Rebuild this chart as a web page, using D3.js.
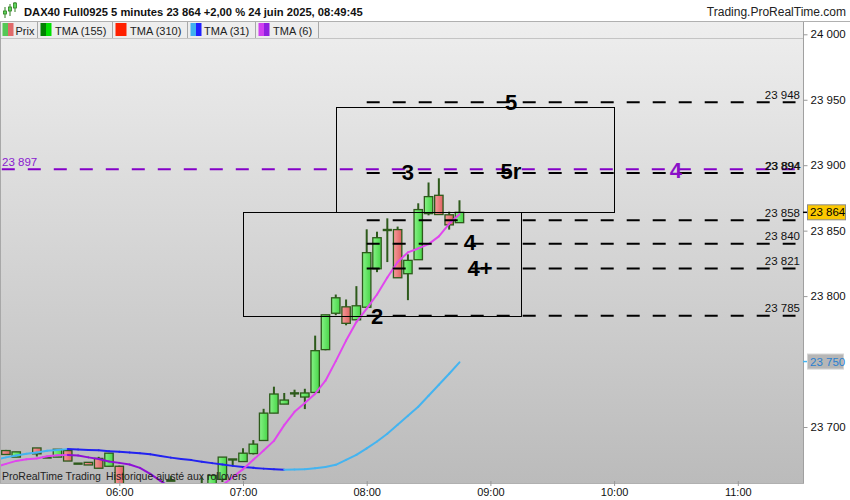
<!DOCTYPE html>
<html><head><meta charset="utf-8">
<script src="https://cdn.jsdelivr.net/npm/d3@7"></script>
<style>
body{margin:0;background:#fff;}
svg{display:block;font-family:Arial,"Liberation Sans",sans-serif;}
</style></head><body>
<svg id="c" width="850" height="500"></svg>
<script>
// ---------------- DATA ----------------
const candleTimes = ["05:05","05:10","05:20","05:25","05:30","05:35","05:40","05:45","05:50","05:55",
  "06:00","06:05","06:10","06:15","06:20","06:25","06:30","06:35","06:40","06:45","06:50","06:55",
  "07:00","07:05","07:10","07:15","07:20","07:25","07:30","07:35","07:40","07:45","07:50","07:55",
  "08:00","08:05","08:10","08:15","08:20","08:25","08:30","08:35","08:40","08:45"];
const opens  = [23682,23677,23684,23676.7,23677,23682,23672,23673,23676,23670,
  23670,23652,23642,23645,23640,23659,23650,23645,23650,23648,23660,23675.2,
  23673.6,23679.7,23689.7,23710.6,23717.5,23725.7,23722.9,23726.4,23759.1,23786.9,23791.8,23781.9,
  23791.5,23820.9,23850.5,23850.8,23817.1,23827.8,23863,23877,23862.1,23856.1];
const highs  = [23682.5,23681,23684,23676.7,23683,23683,23672,23673,23677.2,23680,
  23670.5,23654,23648,23650,23652,23662.5,23655,23654,23661.5,23663,23677,23675.2,
  23683.8,23690,23713.9,23730.8,23726,23728.5,23729.2,23769.8,23785.7,23801.2,23797.4,23807.6,
  23851,23849.2,23859.4,23853.1,23831.9,23870.9,23886.8,23890,23864.5,23873.2];
const lows   = [23679,23677,23677.5,23676.7,23677,23674,23672,23671,23668.5,23670,
  23648,23638,23635,23638,23636,23659,23640,23638,23645,23645,23658,23670.3,
  23673.6,23679,23689.7,23710.6,23717.5,23722.9,23713.7,23726.4,23758.6,23785.4,23777.7,23781.9,
  23791.5,23818.3,23826,23814,23796.9,23827.8,23861.7,23862.3,23850.8,23856.1];
const closes = [23679,23681,23679.5,23676.7,23683,23674,23672,23671,23668.5,23680,
  23652,23642,23645,23640,23650,23659,23645,23650,23648,23663,23677,23675.2,
  23680,23686.9,23710.6,23725.2,23720.6,23725.7,23726,23758.3,23785.7,23798.7,23779.2,23792.6,
  23833.2,23844.6,23850.5,23814,23827.3,23866.1,23876,23862.3,23854.4,23864];

const tmaTimes = ["05:00","05:05","05:10","05:15","05:20","05:25","05:30","05:35","05:40","05:45","05:50","05:55",
  "06:00","06:05","06:10","06:15","06:20","06:25","06:30","06:35","06:40","06:45","06:50","06:55",
  "07:00","07:05","07:10","07:15","07:20","07:25","07:30","07:35","07:40","07:45","07:50","07:55",
  "08:00","08:05","08:10","08:15","08:20","08:25","08:30","08:35","08:40","08:45"];
const tma6 = [23669.5,23671.8,23674.1,23675.3,23676.0,23677.6,23678.5,23678.7,23678.3,23676.8,23675.6,23673.7,
  23672.6,23671.4,23668.8,23664.2,23658.8,23653.4,23650.0,23648.0,23648.5,23651.0,23655.5,23661.6,
  23667.8,23674.9,23682.0,23689.4,23701.4,23711.6,23718.4,23725.4,23735.4,23750.3,23766.0,23780.2,
  23790.5,23801.2,23814.2,23826.1,23833.4,23836.4,23839.7,23845.6,23855.2,23862.5];
const tma31 = [23674.9,23676.8,23678.3,23679.5,23680.6,23681.8,23682.5,23683.1,23682.9,23682.5,23682.2,23681.5,
  23681.0,23680.6,23680.0,23679.1,23677.9,23676.6,23675.6,23674.7,23673.5,23672.4,23671.4,23670.3,
  23669.5,23668.8,23668.2,23667.8,23667.4,23667.5,23667.8,23668.5,23669.5,23671.1,23674.9,23678.7,
  23683.7,23688.9,23694.8,23701.7,23708.6,23715.5,23723.9,23732.3,23740.7,23749.4];

const levelPrices = [23948, 23894, 23858, 23840, 23821, 23785];
const levelStart = "08:00", levelEnd = "11:28";
const pivotPrice = 23897, pivotStart = "05:03";

const boxStarts = ["07:00","07:45"], boxEnds = ["09:15","10:00"];
const boxTops = [23864, 23944.2], boxBottoms = [23784.8, 23864];

const waveLabels = ["5","3","5r","4","4+","2","4"];
const waveTimes  = ["09:10","08:20","09:10","08:50","08:55","08:05","10:30"];
const wavePrices = [23948,23894.5,23895.5,23841,23821.5,23785,23896.5];
const waveIsPivot = [false,false,false,false,false,false,true];

const yTicks = [23700,23800,23850,23900,23950,24000];
const xTickLabels = ["06:00","07:00","08:00","09:00","10:00","11:00"];
const lastPrice = 23864, tma31Last = 23750;
const legendNames = ["Prix","TMA (155)","TMA (310)","TMA (31)","TMA (6)"];
const headerText = "DAX40 Full0925 5 minutes 23 864 +2,00 % 24 juin 2025, 08:49:45";

// ---------------- SETUP ----------------
const W=850,H=500, plotL=1, plotR=803, plotT=38, plotB=483;
const FS = 11;
const parse = d3.timeParse("%H:%M");
const fmt = d3.formatLocale({decimal:",",thousands:" ",grouping:[3],currency:["",""]}).format(",d");
const x = d3.scaleTime().domain([parse("05:00"), parse("11:00")]).range([-4.4, 737.8]);
const y = d3.scaleLinear().domain([23700, 24000]).range([427, 34.3]);

const svg = d3.select("#c");
const defs = svg.append("defs");
const bg = defs.append("linearGradient").attr("id","bg").attr("x1",0).attr("y1",0).attr("x2",0).attr("y2",1);
bg.append("stop").attr("offset",0).attr("stop-color","#eeeeee");
bg.append("stop").attr("offset",1).attr("stop-color","#bbbbbb");
const gG = defs.append("linearGradient").attr("id","gG");
gG.append("stop").attr("offset",0).attr("stop-color","#86f286");
gG.append("stop").attr("offset",1).attr("stop-color","#48d648");
const gR = defs.append("linearGradient").attr("id","gR");
gR.append("stop").attr("offset",0).attr("stop-color","#f49a9a");
gR.append("stop").attr("offset",1).attr("stop-color","#e06262");
defs.append("clipPath").attr("id","clip").append("rect")
  .attr("x",plotL).attr("y",plotT).attr("width",plotR-plotL).attr("height",plotB-plotT);

svg.append("rect").attr("width",W).attr("height",H).attr("fill","#fff");
svg.append("rect").attr("x",0).attr("y",22).attr("width",plotR).attr("height",plotB-22).attr("fill","url(#bg)");

// header
const icon = svg.append("g");
[[5,7,16,11,14],[10,4,14,7,11],[15,2,10,3,8]].forEach(([cx,wt,wb,bt,bb])=>{
  icon.append("line").attr("x1",cx).attr("x2",cx).attr("y1",wt).attr("y2",wb+2).attr("stroke","#2e7d1e").attr("stroke-width",1);
  icon.append("rect").attr("x",cx-1.5).attr("y",bt).attr("width",3).attr("height",bb-bt).attr("fill","#5cd65c").attr("stroke","#2e7d1e").attr("stroke-width",0.8);
});
svg.append("text").attr("x",24).attr("y",16).attr("font-size",11.2).attr("font-weight","bold").attr("fill","#111").text(headerText);
svg.append("text").attr("x",846).attr("y",16).attr("text-anchor","end").attr("font-size",12).attr("fill","#222").text("Trading.ProRealTime.com");
svg.append("line").attr("x1",0).attr("x2",W).attr("y1",21.5).attr("y2",21.5).attr("stroke","#b0b0b0");

// legend
const swatches = [["#55c855","#e06a6a"],["#008000","#00e000"],["#ff2000","#ff2000"],["#40b0f0","#2020ff"],["#d040f0","#9020e0"]];
const swX=[2.5,40.5,115.5,190.5,258.5], txX=[15.5,55,130,204,273], sepX=[37.5,112.5,187.5,255.5,318.5];
const lg = svg.append("g");
legendNames.forEach((n,i)=>{
  lg.append("rect").attr("x",swX[i]).attr("y",23).attr("width",5.5).attr("height",13).attr("fill",swatches[i][0]);
  lg.append("rect").attr("x",swX[i]+5.5).attr("y",23).attr("width",5.5).attr("height",13).attr("fill",swatches[i][1]);
  lg.append("text").attr("x",txX[i]).attr("y",34.5).attr("font-size",FS).attr("fill","#222").text(n);
  lg.append("line").attr("x1",sepX[i]).attr("x2",sepX[i]).attr("y1",22).attr("y2",38).attr("stroke","#a8a8a8");
});
svg.append("line").attr("x1",0).attr("x2",plotR).attr("y1",38.5).attr("y2",38.5).attr("stroke","#c4c4c4");

// plot group
const pg = svg.append("g").attr("clip-path","url(#clip)");
const candles = candleTimes.map((t,i)=>({t:parse(t),o:opens[i],h:highs[i],l:lows[i],c:closes[i]}));
const wickC = "#2d5a1b";
pg.selectAll("line.wick").data(candles.filter(d=>d.h>d.l)).join("line").attr("class","wick")
  .attr("x1",d=>x(d.t)).attr("x2",d=>x(d.t)).attr("y1",d=>y(d.h)).attr("y2",d=>y(d.l))
  .attr("stroke",wickC).attr("stroke-width",2);
pg.selectAll("rect.body").data(candles.filter(d=>d.o!==d.c)).join("rect").attr("class","body")
  .attr("x",d=>x(d.t)-4.2).attr("width",8.4)
  .attr("y",d=>y(Math.max(d.o,d.c))).attr("height",d=>Math.abs(y(d.o)-y(d.c)))
  .attr("fill",d=>d.c>d.o?"url(#gG)":"url(#gR)").attr("stroke",wickC).attr("stroke-width",1.3);
pg.selectAll("line.doji").data(candles.filter(d=>d.o===d.c)).join("line").attr("class","doji")
  .attr("x1",d=>x(d.t)-4.6).attr("x2",d=>x(d.t)+4.6).attr("y1",d=>y(d.o)).attr("y2",d=>y(d.o))
  .attr("stroke",wickC).attr("stroke-width",2.4);

// TMA two-tone lines
function twoTone(vals, upC, downC){
  const pts = tmaTimes.map((t,i)=>[x(parse(t)), y(vals[i])]);
  for(let i=0;i<pts.length-1;i++){
    pg.append("line").attr("x1",pts[i][0]).attr("y1",pts[i][1]).attr("x2",pts[i+1][0]).attr("y2",pts[i+1][1])
      .attr("stroke", vals[i+1]>=vals[i]?upC:downC).attr("stroke-width",2).attr("stroke-linecap","round");
  }
}
twoTone(tma31, "#44b4f0", "#2222f0");
twoTone(tma6, "#e046ee", "#8e10d6");

// boxes
boxStarts.forEach((s,i)=>{
  const x0=Math.round(x(parse(s)))+0.5, x1=Math.round(x(parse(boxEnds[i])))+0.5;
  const y0=Math.round(y(boxTops[i]))+0.5, y1=Math.round(y(boxBottoms[i]))+0.5;
  pg.append("rect").attr("x",x0).attr("y",y0).attr("width",x1-x0).attr("height",y1-y0)
    .attr("fill","none").attr("stroke","#000").attr("stroke-width",1);
});

// pivot purple line
pg.append("line").attr("x1",x(parse(pivotStart))).attr("x2",x(parse(levelEnd)))
  .attr("y1",y(pivotPrice)).attr("y2",y(pivotPrice))
  .attr("stroke","#8400c8").attr("stroke-width",2).attr("stroke-dasharray","13,13");
svg.append("text").attr("x",2).attr("y",y(pivotPrice)-3.5).attr("font-size",FS+0.5).attr("fill","#8a20d0").text(fmt(pivotPrice));

// levels
levelPrices.forEach(p=>{
  pg.append("line").attr("x1",x(parse(levelStart))).attr("x2",x(parse(levelEnd)))
    .attr("y1",y(p)).attr("y2",y(p)).attr("stroke","#000").attr("stroke-width",2).attr("stroke-dasharray","13,13");
  svg.append("text").attr("x",800).attr("y",y(p)-3.5).attr("text-anchor","end").attr("font-size",FS+0.5).attr("fill","#111").text(fmt(p));
  if(p===23894){ svg.append("text").attr("x",800.6).attr("y",y(p)-3.5).attr("text-anchor","end").attr("font-size",FS+0.5).attr("fill","#111").text(fmt(p)); }
});

// wave labels
waveLabels.forEach((l,i)=>{
  svg.append("text").attr("x",x(parse(waveTimes[i]))).attr("y",y(wavePrices[i])).attr("dy","0.36em")
    .attr("text-anchor","middle").attr("font-size",22).attr("font-weight","bold")
    .attr("fill",waveIsPivot[i]?"#8a10c8":"#000").text(l);
});

// bottom info text
svg.append("text").attr("x",2).attr("y",480).attr("font-size",10.5).attr("fill","#222").text("ProRealTime Trading");
svg.append("text").attr("x",106).attr("y",480).attr("font-size",10.5).attr("fill","#222").text("Historique ajusté aux rollovers");

// right axis
svg.append("rect").attr("x",plotR).attr("y",22).attr("width",W-plotR).attr("height",H-22).attr("fill","#fff");
svg.append("rect").attr("x",0).attr("y",plotB).attr("width",W).attr("height",H-plotB).attr("fill","#fff");
svg.append("line").attr("x1",plotR+0.5).attr("x2",plotR+0.5).attr("y1",22).attr("y2",plotB).attr("stroke","#a0a0a0");
svg.append("line").attr("x1",0).attr("x2",plotR+1).attr("y1",plotB+0.5).attr("y2",plotB+0.5).attr("stroke","#b0b0b0");
svg.append("line").attr("x1",0.5).attr("x2",0.5).attr("y1",22).attr("y2",plotB).attr("stroke","#a8a8a8");

const yAxis = d3.axisRight(y).tickValues(yTicks).tickFormat(fmt).tickSize(4).tickPadding(3);
const ya = svg.append("g").attr("transform",`translate(${plotR+0.5},0)`).call(yAxis);
ya.select(".domain").remove();
ya.selectAll(".tick line").attr("stroke","#999");
ya.selectAll(".tick text").attr("font-size",FS+0.5).attr("fill","#111").attr("font-family","Arial,'Liberation Sans',sans-serif");

// tma31 label
const y31 = y(tma31Last);
svg.append("line").attr("x1",plotR).attr("x2",plotR+5).attr("y1",y31).attr("y2",y31).attr("stroke","#44b4f0").attr("stroke-width",1.5);
svg.append("rect").attr("x",807.5).attr("y",y31-7.5).attr("width",36).attr("height",15).attr("fill","#b6b6b6").attr("stroke","#d4d4d4");
svg.append("text").attr("x",810).attr("y",y31).attr("dy","0.36em").attr("font-size",FS+0.5).attr("fill","#2a7fd0").text(fmt(tma31Last));
// last price label
const yl = y(lastPrice);
svg.append("line").attr("x1",plotR).attr("x2",plotR+5).attr("y1",yl).attr("y2",yl).attr("stroke","#000").attr("stroke-width",1.5);
svg.append("rect").attr("x",807.5).attr("y",yl-7.5).attr("width",38).attr("height",15).attr("fill","#fcc800").attr("stroke","#8c8c8c");
svg.append("text").attr("x",810).attr("y",yl).attr("dy","0.36em").attr("font-size",FS+0.5).attr("fill","#000").text(fmt(lastPrice));

// x axis
const xAxis = d3.axisBottom(x).tickValues(xTickLabels.map(parse)).tickFormat(d3.timeFormat("%H:%M")).tickSize(3).tickPadding(2);
const xa = svg.append("g").attr("transform",`translate(0,${plotB})`).call(xAxis);
xa.select(".domain").remove();
xa.selectAll(".tick line").attr("stroke","#999").attr("y1",-2);
xa.selectAll(".tick text").attr("font-size",FS).attr("fill","#111").attr("font-family","Arial,'Liberation Sans',sans-serif");
</script>
</body></html>
